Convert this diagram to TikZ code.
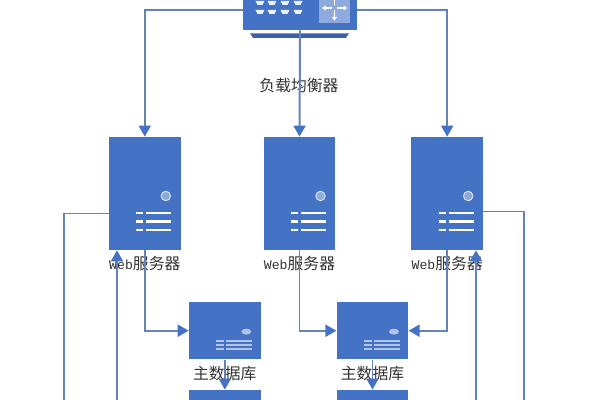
\documentclass[tikz,border=0pt]{standalone}
\usepackage{xcolor}
\usepackage{fontspec}
\usepackage{tikz}
\usetikzlibrary{arrows.meta,positioning,shapes.geometric}
\setmainfont{Noto Sans CJK SC}
\newfontfamily\latinlabel{Liberation Mono}
\definecolor{boxblue}{HTML}{4472C4}
\definecolor{wireblue}{HTML}{6484B6}
\definecolor{paleblue}{HTML}{8FAADC}

\begin{document}
\begin{tikzpicture}[>={Triangle[length=2.2mm,width=2.4mm,color=boxblue]}, font=\fontsize{9}{10}\selectfont, text=black!80,
  server/.style = {fill=boxblue, draw=none, minimum width=1.43cm, minimum height=2.26cm, inner sep=0},
  database/.style = {fill=boxblue, draw=none, minimum width=1.43cm, minimum height=1.14cm, inner sep=0},
  caption/.style = {inner sep=0, text height=2.2mm, text depth=0.5mm},
  wire/.style = {draw=wireblue, line width=1.1pt},
  lamp/.style = {circle, fill=paleblue, draw=white!70!paleblue, line width=0.5pt, minimum size=0.19cm, inner sep=0},
  dblamp/.style = {ellipse, fill=paleblue!70!white, minimum width=0.2cm, minimum height=0.12cm, inner sep=0}]
\useasboundingbox (0,0) rectangle (12,-8);
\clip (0,0) rectangle (12,-8);

\node[fill=boxblue, minimum width=2.28cm, minimum height=0.8cm, inner sep=0] (balancer) at (6,-0.2) {};
\node[caption] (balancerLabel) [below=1.0cm of balancer, xshift=-0.02cm] {负载均衡器};
\fill[boxblue!85!black] ([shift={(-1,-0.06)}]balancer.south) -- ([shift={(0.98,-0.06)}]balancer.south) -- ([shift={(0.92,-0.15)}]balancer.south) -- ([shift={(-0.94,-0.15)}]balancer.south) -- cycle;

\node[server] (webB) at (5.99,-3.87) {};
\node[server] (webA) [left=1.65cm of webB] {};
\node[server] (webC) [right=1.51cm of webB] {};
\node[caption] (webALabel) [below=0.16cm of webA] {{\latinlabel\fontsize{7.5}{10}\selectfont Web}服务器};
\node[caption] (webBLabel) [below=0.16cm of webB] {{\latinlabel\fontsize{7.5}{10}\selectfont Web}服务器};
\node[caption] (webCLabel) [below=0.16cm of webC] {{\latinlabel\fontsize{7.5}{10}\selectfont Web}服务器};

\node[database] (dbB) [below=1.03cm of webB, xshift=1.46cm] {};
\node[database] (dbA) [left=1.51cm of dbB] {};
\node[database] (dbC) [below=0.6cm of dbA] {};
\node[database] (dbD) [below=0.6cm of dbB] {};
\node[caption] (dbALabel) [below=0.18cm of dbA] {主数据库};
\node[caption] (dbBLabel) [below=0.18cm of dbB] {主数据库};

% ports and routing icon on the balancer
\foreach \x in {-0.8,-0.56,-0.3,-0.04}
  \foreach \y in {0.14,-0.04}
    \fill[white!90!boxblue] ([shift={(\x-0.09,\y+0.04)}]balancer.center) -- ([shift={(\x+0.09,\y+0.04)}]balancer.center) -- ([shift={(\x+0.05,\y-0.04)}]balancer.center) -- ([shift={(\x-0.05,\y-0.04)}]balancer.center) -- cycle;
\node[fill=paleblue, minimum size=0.62cm, inner sep=0] (routeIcon) at ([shift={(0.69,0.04)}]balancer.center) {};
\foreach \a in {0,90,180,270}
  \draw[white, line width=0.7pt, -{Triangle[length=0.7mm,width=1mm]}] ([shift={(\a:0.05)}]routeIcon.center) -- ([shift={(\a:0.25)}]routeIcon.center);

% front panel of the web servers
\foreach \n in {webA,webB,webC}{
  \node[lamp] (\n Lamp) at ([shift={(0.42,-0.05)}]\n.center) {};
  \foreach \y in {-0.39,-0.56,-0.73}{
    \draw[white, line width=1.6pt] ([shift={(-0.17,\y)}]\n.center) -- ([shift={(-0.03,\y)}]\n.center);
    \draw[white, line width=1.6pt] ([shift={(0.03,\y)}]\n.center) -- ([shift={(0.53,\y)}]\n.center);
  }
}
% front panel of the databases
\foreach \n in {dbA,dbB}{
  \node[dblamp] (\n Lamp) at ([shift={(0.43,-0.02)}]\n.center) {};
  \foreach \y in {-0.2,-0.28,-0.36}{
    \draw[paleblue!70!white, line width=1pt] ([shift={(-0.17,\y)}]\n.center) -- ([shift={(-0.01,\y)}]\n.center);
    \draw[paleblue!70!white, line width=1pt] ([shift={(0.02,\y)}]\n.center) -- ([shift={(0.55,\y)}]\n.center);
  }
}

\coordinate (backA) at (1.28,-8);
\coordinate (upA) at (2.34,-8);
\coordinate (upC) at (9.52,-8);
\coordinate (backC) at (10.48,-8);

\draw[wire, ->] (balancer.west) -| (webA.north);
\draw[wire, ->] (balancer.south) -- (webB.north);
\draw[wire, ->] (balancer.east) -| (webC.north);
\draw[wire, ->] (webA.south) |- (dbA.west);
\draw[wire, ->] (webB.south) |- (dbB.west);
\draw[wire, ->] (webC.south) |- (dbB.east);
\draw[wire, ->] (dbA.south) -- (dbC.north);
\draw[wire, ->] (dbB.south) -- (dbD.north);
\draw[wire] ([yshift=-0.4cm]webA.west) -| (backA);
\draw[wire] ([yshift=-0.36cm]webC.east) -| (backC);
\draw[wire, ->] (upA) -- (upA |- webA.south);
\draw[wire, ->] (upC) -- (upC |- webC.south);
\end{tikzpicture}
\end{document}
